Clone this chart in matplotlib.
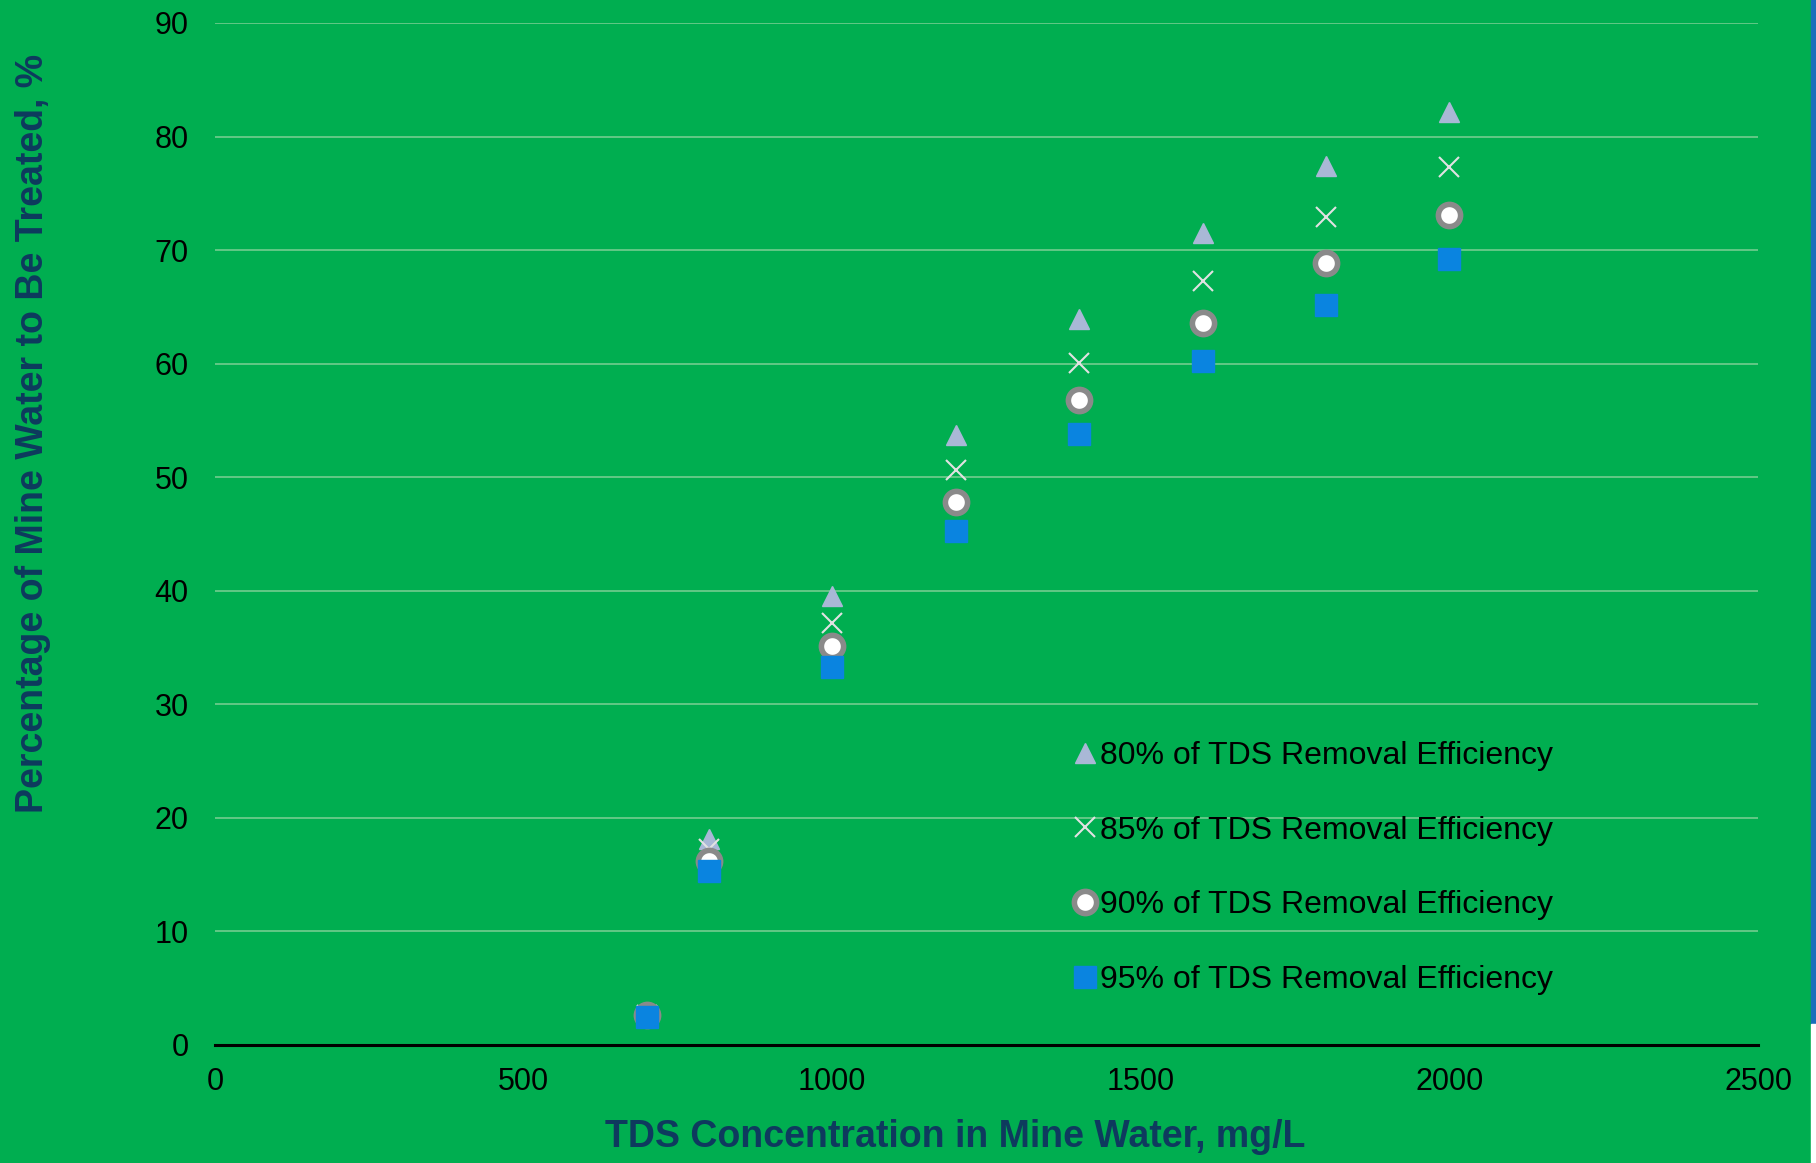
import matplotlib
matplotlib.use("Agg")
import matplotlib.pyplot as plt
from matplotlib.patches import Rectangle

tds = [700, 800, 1000, 1200, 1400, 1600, 1800, 2000]
eff80 = [2.6, 18.1, 39.5, 53.7, 63.9, 71.5, 77.4, 82.2]
eff85 = [2.6, 17.3, 37.2, 50.6, 60.1, 67.3, 72.9, 77.3]
eff90 = [2.6, 16.2, 35.1, 47.8, 56.8, 63.6, 68.9, 73.1]
eff95 = [2.5, 15.3, 33.3, 45.3, 53.8, 60.2, 65.2, 69.2]
labels = ["80% of TDS Removal Efficiency", "85% of TDS Removal Efficiency",
          "90% of TDS Removal Efficiency", "95% of TDS Removal Efficiency"]
xticks = [0, 500, 1000, 1500, 2000, 2500]
yticks = [0, 10, 20, 30, 40, 50, 60, 70, 80, 90]

plt.rcParams['font.family'] = ['Liberation Sans', 'DejaVu Sans']
BG = '#00AE50'
NAVY = '#0E3A5E'

fig = plt.figure(figsize=(18.16, 11.63), dpi=100)
fig.patch.set_facecolor(BG)
ax = fig.add_axes([215/1816, 1 - 1045/1163, (1758-215)/1816, (1045-23)/1163])
ax.set_facecolor(BG)

ax.plot(tds, eff80, linestyle='none', marker='^', ms=15, color='#A9B8D6', mec='#A9B8D6', label=labels[0], zorder=3)
ax.plot(tds, eff85, linestyle='none', marker='x', ms=14.5, mew=1.5, color='#E2E2E2', label=labels[1], zorder=4)
ax.plot(tds, eff90, linestyle='none', marker='o', ms=16, mew=4, mfc='white', mec='#8A8A8A', label=labels[2], zorder=5)
ax.plot(tds, eff95, linestyle='none', marker='s', ms=15.5, color='#0A84E0', mec='#0A84E0', label=labels[3], zorder=6)

ax.set_xlim(0, 2500)
ax.set_ylim(0, 90)
ax.set_xticks(xticks)
ax.set_yticks(yticks)
ax.tick_params(axis='both', length=0, labelsize=22, colors='black')
ax.tick_params(axis='x', pad=16)
ax.tick_params(axis='y', pad=19)
ax.grid(axis='y', color='#7ccf95', lw=1.1)
ax.set_axisbelow(True)
for s in ['top', 'right', 'left']:
    ax.spines[s].set_visible(False)
ax.spines['bottom'].set_color('black')
ax.spines['bottom'].set_linewidth(2.2)

ax.set_xlabel("TDS Concentration in Mine Water, mg/L", fontsize=27, fontweight='bold', color=NAVY)
ax.xaxis.set_label_coords(0.48, -0.072)
ax.set_ylabel("Percentage of Mine Water to Be Treated, %", fontsize=27, fontweight='bold', color=NAVY)
ax.yaxis.set_label_coords(-0.1065, 0.598)

leg = ax.legend(loc='upper left', bbox_to_anchor=(0.548, 0.31), frameon=False, fontsize=23,
                handlelength=0.7, handletextpad=0.15, labelspacing=1.4, borderaxespad=0)

fig.patches.append(Rectangle((1811/1816, 1 - 1024/1163), 5/1816, 1024/1163, transform=fig.transFigure, color='#1A6FBA', zorder=10))
fig.patches.append(Rectangle((1811/1816, 0), 5/1816, 1 - 1024/1163, transform=fig.transFigure, color='white', zorder=10))

fig.savefig("out.png", dpi=100, facecolor=BG)
